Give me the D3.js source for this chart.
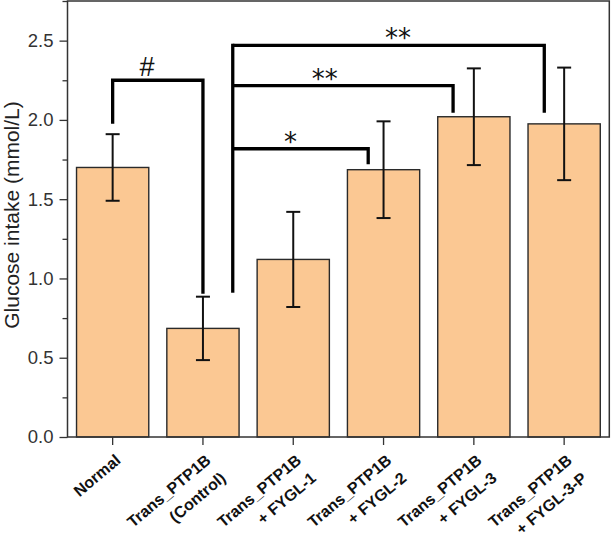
<!DOCTYPE html>
<html>
<head>
<meta charset="utf-8">
<script src="https://cdn.jsdelivr.net/npm/d3@7"></script>
<style>
  html, body { margin: 0; padding: 0; background: #fff; }
  svg { display: block; }
</style>
</head>
<body>
<svg id="chart" width="611" height="538"></svg>
<script>
// ---- data ----
const categories = ["Normal", "Trans_PTP1B (Control)", "Trans_PTP1B + FYGL-1", "Trans_PTP1B + FYGL-2", "Trans_PTP1B + FYGL-3", "Trans_PTP1B + FYGL-3-P"];
const labelLines = [["Normal"], ["Trans_PTP1B", "(Control)"], ["Trans_PTP1B", "+ FYGL-1"], ["Trans_PTP1B", "+ FYGL-2"], ["Trans_PTP1B", "+ FYGL-3"], ["Trans_PTP1B", "+ FYGL-3-P"]];
const means = [1.70, 0.685, 1.12, 1.686, 2.02, 1.975];
const errors = [0.21, 0.20, 0.30, 0.305, 0.305, 0.355];
const yTicks = [0, 0.5, 1.0, 1.5, 2.0, 2.5];
const yMinorTicks = [0.25, 0.75, 1.25, 1.75, 2.25, 2.75];
const yLabel = "Glucose intake (mmol/L)";

// significance annotations (values in data units)
const hashBracket = { from: 0, to: 1, level: 2.25, fromEnd: 1.976, toEnd: 0.903, text: "#", textPos: 0.38 };
const groupStem = { at: 1, offset: 0.33, bottom: 0.91 };
const groupArms = [
  { to: 3, level: 1.818, end: 1.72, legOffset: -0.17, text: "*", textPos: 1.97 },
  { to: 4, level: 2.216, end: 2.045, legOffset: -0.23, text: "**", textPos: 2.35 },
  { to: 5, level: 2.47, end: 2.045, legOffset: -0.22, text: "**", textPos: 3.16 }
];

// ---- layout ----
const mLeft = 67.5, mRight = 609.3, mTop = 1, mBottom = 437;
const svg = d3.select("#chart");

const x = d3.scaleBand().domain(d3.range(categories.length)).range([mLeft, mRight]).paddingInner(0.2).paddingOuter(0.1);
const y = d3.scaleLinear().domain([0, 2.75]).range([mBottom, mTop]);
const step = x.step();
const cx = i => x(i) + x.bandwidth() / 2;
const cxf = f => cx(0) + f * step;

// bars
svg.append("g").selectAll("rect").data(means).join("rect")
  .attr("x", (d, i) => x(i))
  .attr("y", d => y(d))
  .attr("width", x.bandwidth())
  .attr("height", d => y(0) - y(d))
  .attr("fill", "#fbc893")
  .attr("stroke", "#2a2a2a")
  .attr("stroke-width", 1.4);

// error bars
const eg = svg.append("g").attr("stroke", "#111").attr("stroke-width", 2).attr("fill", "none");
means.forEach((m, i) => {
  const e = errors[i];
  eg.append("line").attr("x1", cx(i)).attr("x2", cx(i)).attr("y1", y(m - e)).attr("y2", y(m + e));
  eg.append("line").attr("x1", cx(i) - 7).attr("x2", cx(i) + 7).attr("y1", y(m + e)).attr("y2", y(m + e));
  eg.append("line").attr("x1", cx(i) - 7).attr("x2", cx(i) + 7).attr("y1", y(m - e)).attr("y2", y(m - e));
});

// frame
const frameColor = "#333";
svg.append("rect").attr("x", mLeft).attr("y", mTop).attr("width", mRight - mLeft).attr("height", mBottom - mTop)
  .attr("fill", "none").attr("stroke", frameColor).attr("stroke-width", 1.5);

// y axis
const yAxis = d3.axisLeft(y).tickValues(yTicks).tickFormat(d3.format(".1f")).tickSize(8).tickPadding(6);
const ya = svg.append("g").attr("transform", `translate(${mLeft},0)`).call(yAxis);
ya.select(".domain").remove();
ya.selectAll("line").attr("stroke", frameColor).attr("stroke-width", 1.3);
ya.selectAll("text").attr("font-family", "Liberation Sans, Arial, sans-serif").attr("font-size", 18.5).attr("fill", "#333");
const yMinor = d3.axisLeft(y).tickValues(yMinorTicks).tickFormat("").tickSize(5);
const ym = svg.append("g").attr("transform", `translate(${mLeft},0)`).call(yMinor);
ym.select(".domain").remove();
ym.selectAll("line").attr("stroke", frameColor).attr("stroke-width", 1.3);

// x axis ticks
const xAxis = d3.axisBottom(x).tickFormat("").tickSize(8);
const xa = svg.append("g").attr("transform", `translate(0,${mBottom})`).call(xAxis);
xa.select(".domain").remove();
xa.selectAll("line").attr("stroke", frameColor).attr("stroke-width", 1.3);

// x labels
const angle = -40;
const lab = svg.append("g").attr("font-family", "Liberation Sans, Arial, sans-serif").attr("font-weight", "bold")
  .attr("font-size", 16).attr("fill", "#111").attr("text-anchor", "end");
labelLines.forEach((lines, i) => {
  const t = lab.append("text").attr("transform", `translate(${cx(i) + 9},${mBottom + 25}) rotate(${angle})`);
  lines.forEach((ln, j) => {
    t.append("tspan").attr("x", 0).attr("dy", j === 0 ? 0 : "1.45em").text(ln);
  });
});

// y label
svg.append("text").attr("transform", `translate(19,${(mTop + mBottom) / 2 - 4}) rotate(-90)`)
  .attr("text-anchor", "middle").attr("font-family", "Liberation Sans, Arial, sans-serif")
  .attr("font-size", 21).attr("fill", "#222").text(yLabel);

// significance brackets
const bg = svg.append("g").attr("stroke", "#000").attr("stroke-width", 3.3).attr("fill", "none").attr("stroke-linejoin", "miter");
bg.append("path").attr("d", d3.line()([
  [cx(hashBracket.from), y(hashBracket.fromEnd)],
  [cx(hashBracket.from), y(hashBracket.level)],
  [cx(hashBracket.to), y(hashBracket.level)],
  [cx(hashBracket.to), y(hashBracket.toEnd)]
]));
const stemX = cx(groupStem.at) + groupStem.offset * step;
const topLevel = d3.max(groupArms, a => a.level);
bg.append("line").attr("x1", stemX).attr("x2", stemX).attr("y1", y(groupStem.bottom)).attr("y2", y(topLevel) - 1.65);
groupArms.forEach(a => {
  const lx = cx(a.to) + a.legOffset * step;
  bg.append("path").attr("d", d3.line()([
    [stemX, y(a.level)],
    [lx, y(a.level)],
    [lx, y(a.end)]
  ]));
});

const tg = svg.append("g").attr("fill", "#111").attr("text-anchor", "middle");
tg.append("text").attr("x", cxf(hashBracket.textPos)).attr("y", y(hashBracket.level) - 4)
  .attr("font-family", "Liberation Sans, Arial, sans-serif").attr("font-size", 27).text(hashBracket.text);
groupArms.forEach(a => {
  tg.append("text").attr("x", cxf(a.textPos)).attr("y", y(a.level) + 2)
    .attr("font-family", "DejaVu Sans, sans-serif").attr("font-size", 26).text(a.text);
});
</script>
</body>
</html>
